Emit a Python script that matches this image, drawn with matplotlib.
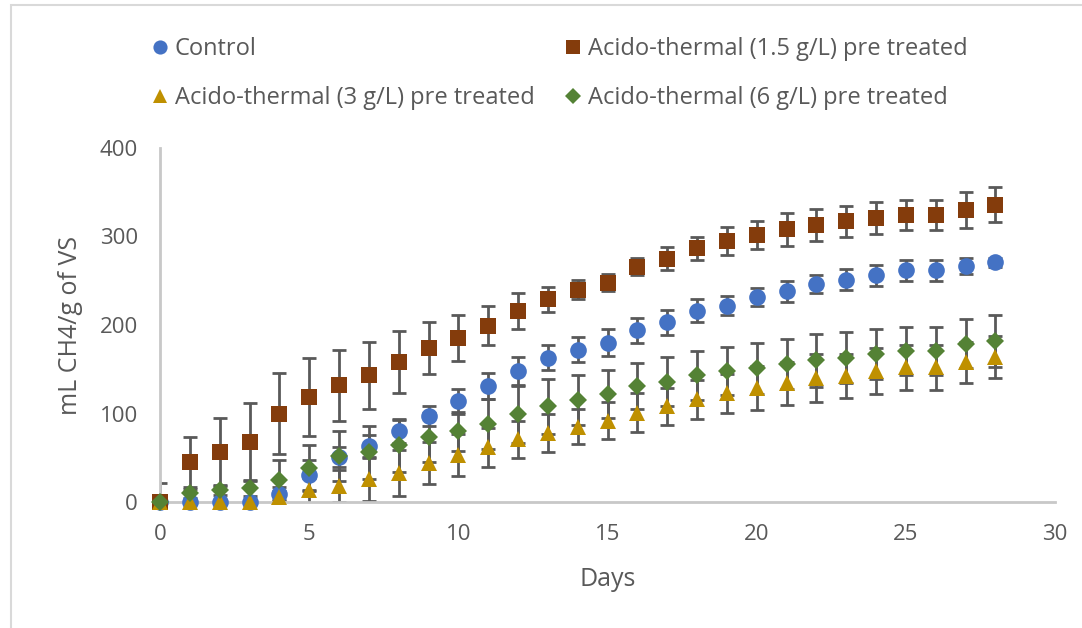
import numpy as np
import matplotlib
matplotlib.use("Agg")
import matplotlib.pyplot as plt
from matplotlib.lines import Line2D
from matplotlib.patches import Rectangle

plt.rcParams['font.family'] = ['Open Sans', 'DejaVu Sans']

# Produccion acumulada de metano por dia
dias = list(range(29))

control = [0, 0, 0, 0, 9, 30, 51, 63, 80, 97, 114, 131, 148, 163, 172, 180, 194, 203,
           216, 222, 232, 238, 246, 251, 256, 262, 262, 267, 271]
control_err = [0, 0, 0, 0, 8, 17, 11, 13, 13, 11, 14, 15, 16, 14, 14, 15, 14, 14,
               13, 11, 10, 12, 10, 12, 12, 12, 12, 9, 5]

acido_15 = [0, 45, 57, 68, 100, 119, 132, 143, 158, 174, 185, 199, 216, 229, 240, 248, 266, 275,
            287, 295, 302, 308, 313, 317, 321, 324, 324, 330, 336]
acido_15_err = [22, 28, 38, 44, 46, 44, 40, 38, 35, 29, 26, 22, 20, 14, 11, 10, 10, 13,
                13, 16, 16, 19, 18, 18, 18, 17, 17, 20, 20]

acido_3 = [0, 0, 0, 0, 6, 13, 18, 26, 33, 44, 53, 62, 71, 78, 85, 92, 101, 108,
           116, 123, 129, 134, 140, 142, 148, 152, 152, 158, 164]
acido_3_err = [0, 2, 2, 2, 6, 14, 18, 25, 26, 24, 24, 22, 21, 21, 20, 21, 22, 21,
               22, 22, 25, 24, 27, 25, 26, 25, 25, 23, 24]

acido_6 = [0, 10, 13, 16, 25, 38, 52, 56, 64, 73, 80, 88, 99, 108, 115, 122, 131, 136,
           143, 148, 151, 156, 160, 163, 167, 171, 171, 179, 182]
acido_6_err = [0, 5, 5, 9, 23, 26, 28, 30, 30, 28, 22, 28, 32, 31, 28, 27, 26, 28,
               28, 27, 29, 28, 30, 29, 28, 27, 27, 28, 29]

etiquetas = ["Control",
             "Acido-thermal (1.5 g/L) pre treated",
             "Acido-thermal (3 g/L) pre treated",
             "Acido-thermal (6 g/L) pre treated"]

series = [
    (control, control_err, "o", "#4472C4", 12),
    (acido_15, acido_15_err, "s", "#843C0C", 12),
    (acido_3, acido_3_err, "^", "#BF9000", 12),
    (acido_6, acido_6_err, "D", "#548235", 9),
]

fig = plt.figure(figsize=(10.82, 6.28), dpi=100)
ax = fig.add_axes([160 / 1082, 1 - 502 / 628, (1055 - 160) / 1082, (502 - 148) / 628])

gris_texto = "#595959"

handles = []
for (valores, errores, marcador, color, tam), etiqueta in zip(series, etiquetas):
    ax.errorbar(dias, valores, yerr=errores, fmt="none", ecolor="#595959",
                elinewidth=2.0, capsize=5, capthick=2.0, zorder=2)
    ax.plot(dias, valores, linestyle="none", marker=marcador, markersize=tam,
            color=color, markeredgewidth=0, clip_on=False, zorder=3)
    handles.append(Line2D([], [], linestyle="none", marker=marcador, markersize=tam * 0.85,
                          color=color, markeredgewidth=0, label=etiqueta))

ax.set_xlim(0, 30)
ax.set_ylim(0, 400)
ax.set_xticks(range(0, 31, 5))
ax.set_yticks(range(0, 401, 100))
ax.tick_params(length=0, labelsize=16, colors=gris_texto, pad=16)

for lado in ["top", "right"]:
    ax.spines[lado].set_visible(False)
for lado in ["left", "bottom"]:
    ax.spines[lado].set_color("#C8C8C8")
    ax.spines[lado].set_linewidth(2)

ax.set_xlabel("Days", fontsize=18, color=gris_texto, labelpad=16)
ax.set_ylabel("mL CH4/g of VS", fontsize=18, color=gris_texto, labelpad=12)

# Leyenda en dos filas arriba del grafico
orden = [handles[0], handles[2], handles[1], handles[3]]
fig.legend(handles=orden, loc="upper left", bbox_to_anchor=(148 / 1082, 1 - 37 / 628),
           ncol=2, frameon=False, fontsize=17, labelcolor=gris_texto,
           handletextpad=0.13, handlelength=1.0, columnspacing=1.13, labelspacing=1.08,
           borderpad=0, borderaxespad=0)

# Borde del area del grafico
fig.patches.append(Rectangle((11 / 1082, -0.01), 1.1, 1 - 5 / 628 + 0.01, transform=fig.transFigure,
                             fill=False, edgecolor="#D9D9D9", linewidth=1.5))

fig.savefig("out.png", dpi=100)
